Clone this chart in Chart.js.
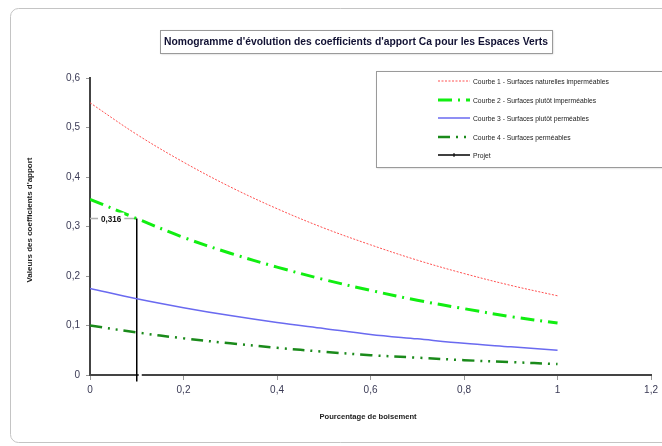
<!DOCTYPE html>
<html>
<head>
<meta charset="utf-8">
<script src="https://cdn.jsdelivr.net/npm/chart.js@4.4.1/dist/chart.umd.min.js"></script>
<style>
  html, body { margin: 0; padding: 0; background: #ffffff; }
  #wrap { width: 662px; height: 446px; position: relative; }
</style>
</head>
<body>
<div id="wrap"><canvas id="nomogramme"></canvas></div>
<script>
// valeurs
const boisement = [0, 0.1, 0.2, 0.3, 0.4, 0.5, 0.6, 0.7, 0.8, 0.9, 1];
const courbe1 = [0.55, 0.486, 0.43, 0.38, 0.336, 0.297, 0.263, 0.232, 0.205, 0.181, 0.16];
const courbe2 = [0.355, 0.316, 0.278, 0.246, 0.218, 0.193, 0.171, 0.151, 0.134, 0.118, 0.105];
const courbe3 = [0.175, 0.154, 0.136, 0.12, 0.106, 0.094, 0.082, 0.073, 0.064, 0.057, 0.05];
const courbe4 = [0.1, 0.086, 0.074, 0.064, 0.055, 0.047, 0.04, 0.035, 0.03, 0.026, 0.022];
const projetX = [0, 0.1, 0.1];
const projetY = [0.316, 0.316, -0.013];
const labelsLegende = [
    "Courbe 1 - Surfaces naturelles imperméables",
    "Courbe 2 - Surfaces plutôt imperméables",
    "Courbe 3 - Surfaces plutôt perméables",
    "Courbe 4 - Surfaces perméables",
    "Projet"
];
const titre = "Nomogramme d'évolution des coefficients d'apport Ca pour les Espaces Verts";
const titreY = "Valeurs des coefficients d'apport";
const titreX = "Pourcentage de boisement";
const valeurProjet = "0,316";

const police = '"Liberation Sans", Arial, sans-serif';

function pts(xs, ys) {
    return xs.map((x, i) => ({ x: x, y: ys[i] }));
}

function virgule(v) {
    if (v === 0) return '0';
    return (Math.round(v * 10) / 10).toString().replace('.', ',');
}

// texte resserré horizontalement (police étroite absente)
function texteSerre(c, txt, x, y, sx) {
    c.save();
    c.translate(x, y);
    c.scale(sx, 1);
    c.fillText(txt, 0, 0);
    c.restore();
}

// cadre, titre, légende et étiquette du projet
const decor = {
    id: 'decor',
    beforeDraw(chart) {
        const c = chart.ctx;
        c.save();
        c.strokeStyle = '#c4c4c4';
        c.lineWidth = 1;
        c.beginPath();
        c.roundRect(10.5, 8.5, 670, 434, 8);
        c.stroke();
        c.restore();
    },
    afterDatasetsDraw(chart) {
        const c = chart.ctx;
        const xs = chart.scales.x, ys = chart.scales.y;
        c.save();

        // petite coupure de l'axe x à droite du trait projet
        c.fillStyle = '#ffffff';
        c.fillRect(xs.getPixelForValue(0.1) + 2, ys.getPixelForValue(0) - 2, 3, 4);

        // étiquette 0,316
        c.font = 'bold 9px ' + police;
        c.textBaseline = 'middle';
        c.textAlign = 'left';
        const py = ys.getPixelForValue(0.316);
        const w = c.measureText(valeurProjet).width * 0.9;
        c.fillStyle = '#ffffff';
        c.fillRect(xs.getPixelForValue(0) + 8, py - 6, w + 6, 12);
        c.fillStyle = '#111111';
        texteSerre(c, valeurProjet, xs.getPixelForValue(0) + 11, py + 1, 0.9);

        // titre encadré
        c.shadowColor = 'rgba(0,0,0,0.25)';
        c.shadowOffsetX = 1;
        c.shadowOffsetY = 1;
        c.shadowBlur = 2;
        c.fillStyle = '#ffffff';
        c.fillRect(160, 30, 392, 23);
        c.shadowColor = 'transparent';
        c.strokeStyle = '#9a9a9a';
        c.strokeRect(160.5, 30.5, 392, 23);
        c.fillStyle = '#111133';
        c.font = 'bold 11px ' + police;
        c.textAlign = 'center';
        const wt = c.measureText(titre).width;
        texteSerre(c, titre, 356, 42, 384 / wt);

        // titres des axes
        c.font = 'bold 8px ' + police;
        c.fillStyle = '#222222';
        texteSerre(c, titreX, 368, 417, 0.95);
        c.save();
        c.translate(30, 220);
        c.rotate(-Math.PI / 2);
        c.fillText(titreY, 0, 0);
        c.restore();

        // légende
        c.shadowColor = 'rgba(0,0,0,0.25)';
        c.shadowOffsetX = 1;
        c.shadowOffsetY = 1;
        c.shadowBlur = 2;
        c.fillStyle = '#ffffff';
        c.fillRect(376, 71, 300, 96);
        c.shadowColor = 'transparent';
        c.strokeStyle = '#9a9a9a';
        c.strokeRect(376.5, 71.5, 300, 96);
        const rows = [81, 100, 118, 137, 155];
        c.font = '7.5px ' + police;
        c.textAlign = 'left';
        chart.data.datasets.forEach((ds, i) => {
            const y = rows[i];
            c.save();
            c.strokeStyle = ds.borderColor;
            c.lineWidth = ds.borderWidth;
            c.setLineDash(ds.borderDash || []);
            c.beginPath();
            c.moveTo(438, y);
            c.lineTo(470, y);
            c.stroke();
            if (i === 4) {
                c.setLineDash([]);
                c.lineWidth = 1;
                c.beginPath();
                c.moveTo(454, y - 2);
                c.lineTo(454, y + 2);
                c.stroke();
            }
            c.restore();
            c.fillStyle = '#222222';
            texteSerre(c, labelsLegende[i], 473, y + 0.5, 0.9);
        });
        c.restore();
    }
};

const ctx_nomo = document.getElementById("nomogramme");
new Chart(ctx_nomo, {
    type: 'line',
    data: {
        datasets: [
            {
                label: labelsLegende[0],
                data: pts(boisement, courbe1),
                borderColor: '#ff5050',
                borderWidth: 1,
                borderDash: [2, 1.5],
                tension: 0.35
            },
            {
                label: labelsLegende[1],
                data: pts(boisement, courbe2),
                borderColor: '#11ee11',
                borderWidth: 3,
                borderDash: [14, 6, 2, 6],
                tension: 0.35
            },
            {
                label: labelsLegende[2],
                data: pts(boisement, courbe3),
                borderColor: '#6a6af0',
                borderWidth: 1.5,
                tension: 0.35
            },
            {
                label: labelsLegende[3],
                data: pts(boisement, courbe4),
                borderColor: '#1a8a1a',
                borderWidth: 2.5,
                borderDash: [12, 6, 2, 6, 2, 6],
                tension: 0.35
            },
            {
                label: labelsLegende[4],
                data: pts(projetX, projetY),
                borderColor: '#000000',
                borderWidth: 1.5,
                clip: false,
                segment: {
                    borderColor: s => s.p0DataIndex === 0 ? '#b0b0b0' : '#000000'
                }
            }
        ]
    },
    options: {
        responsive: true,
        maintainAspectRatio: false,
        animation: false,
        elements: { point: { radius: 0, hoverRadius: 0 } },
        layout: { padding: { left: 0, top: 78, right: 10, bottom: 0 } },
        plugins: {
            legend: { display: false },
            title: { display: false },
            tooltip: { enabled: false }
        },
        scales: {
            x: {
                type: 'linear',
                min: 0,
                max: 1.2,
                afterFit: s => { s.height = 71; },
                ticks: {
                    stepSize: 0.2,
                    color: '#3a3a55',
                    font: { size: 10, family: police },
                    padding: 4,
                    maxRotation: 0,
                    callback: v => virgule(v)
                },
                grid: { drawOnChartArea: false, tickLength: 5, color: '#999999' },
                border: { color: '#444444', width: 2 }
            },
            y: {
                min: 0,
                max: 0.6,
                afterFit: s => { s.width = 90; },
                ticks: {
                    stepSize: 0.1,
                    color: '#3a3a55',
                    font: { size: 10, family: police },
                    padding: 6,
                    callback: v => virgule(v)
                },
                grid: { drawOnChartArea: false, tickLength: 4, color: '#999999' },
                border: { color: '#444444', width: 2 }
            }
        }
    },
    plugins: [decor]
});
</script>
</body>
</html>
